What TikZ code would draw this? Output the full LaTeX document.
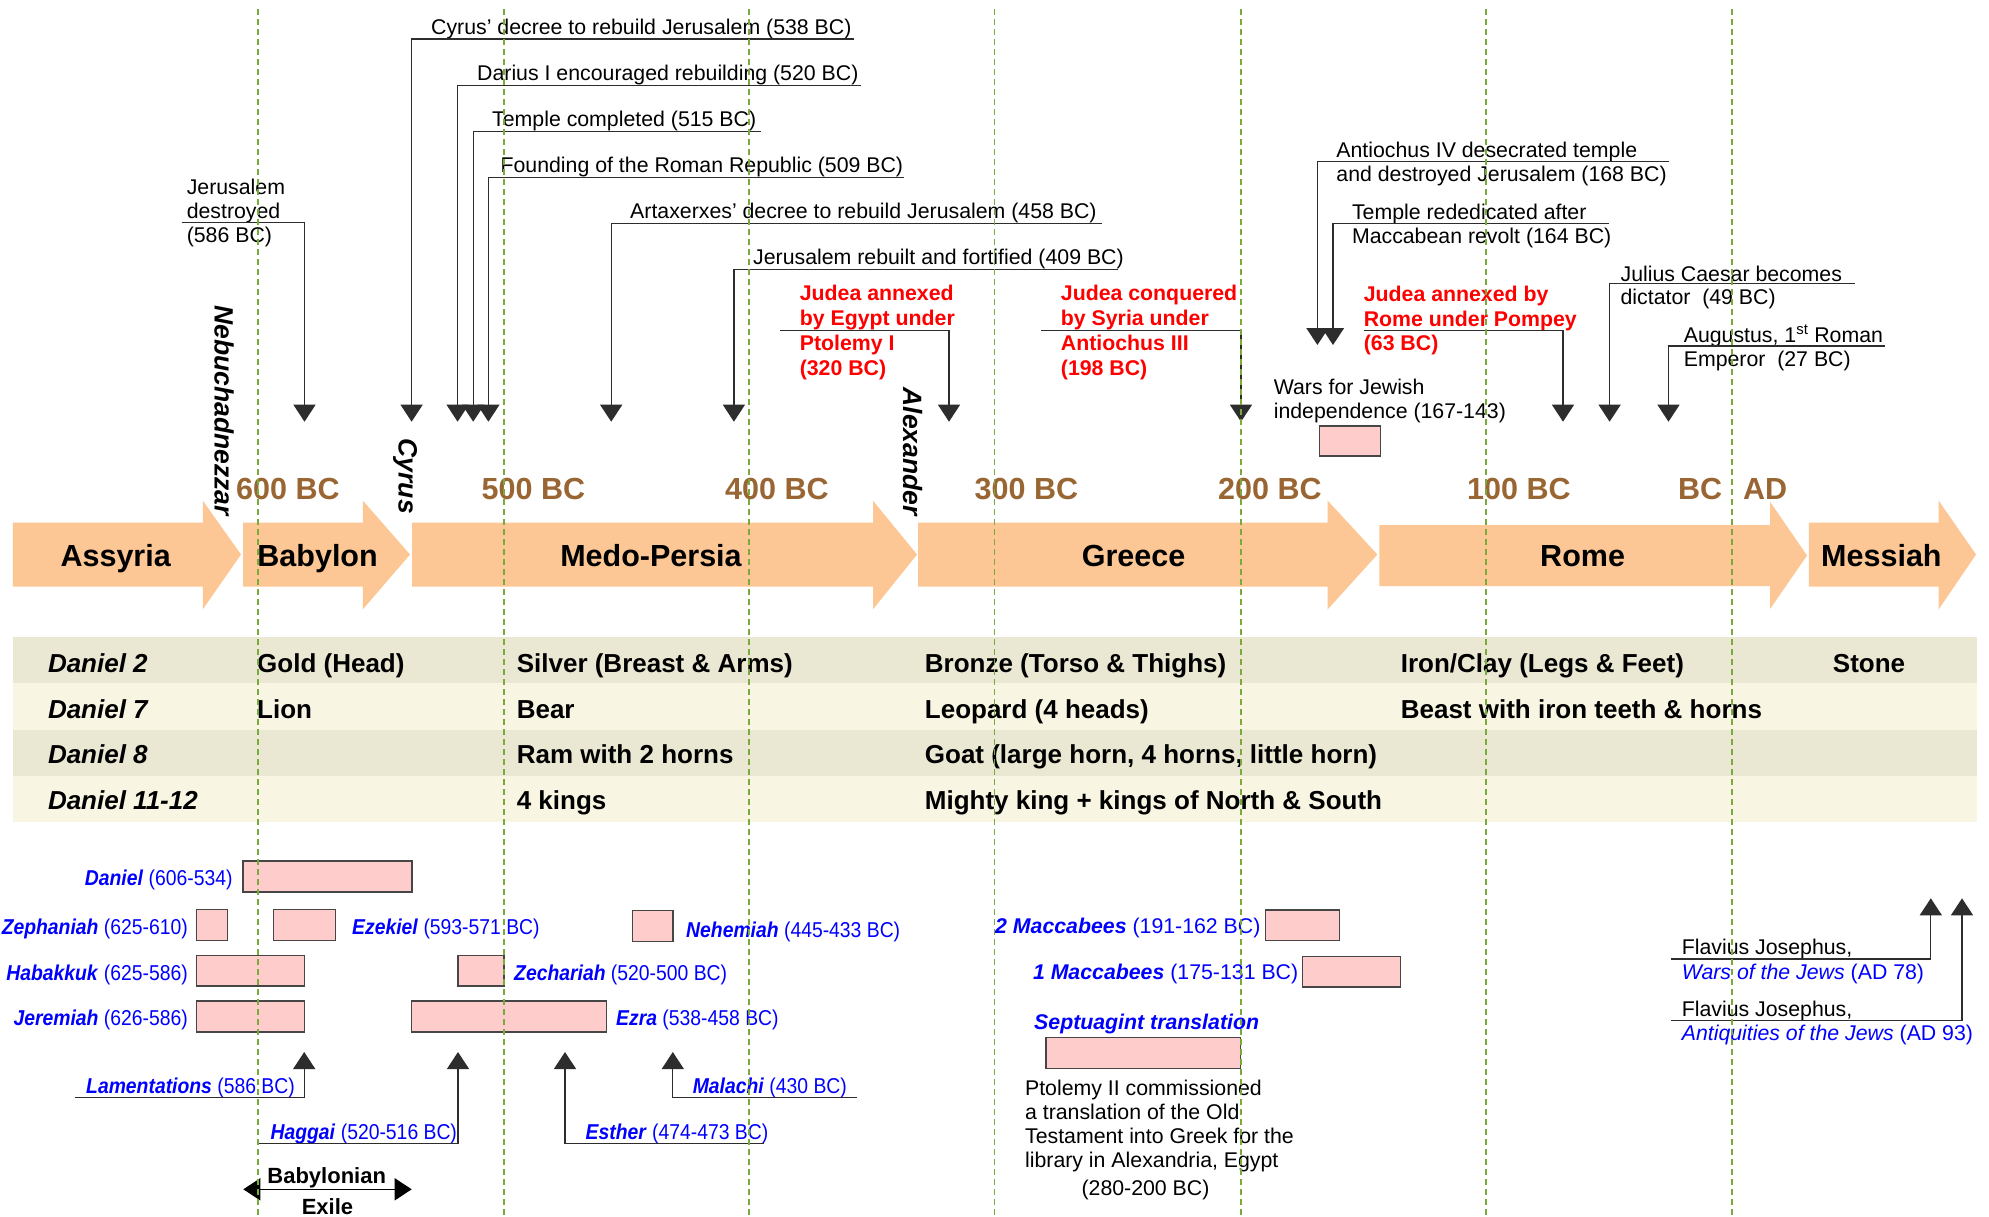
\documentclass[tikz,border=0pt]{standalone}
\usepackage{fontspec}
\setmainfont{Liberation Sans}
\newfontfamily\narrowsans[FakeStretch=0.9]{Liberation Sans}
\usetikzlibrary{arrows.meta}

\definecolor{era}{RGB}{252,199,148}
\definecolor{yearbrown}{RGB}{153,102,51}
\definecolor{guide}{RGB}{120,170,60}
\definecolor{rowdark}{RGB}{234,231,211}
\definecolor{rowlight}{RGB}{248,245,226}
\definecolor{spanfill}{RGB}{255,204,204}
\definecolor{spanedge}{RGB}{70,70,70}
\definecolor{bookblue}{RGB}{0,0,255}
\definecolor{evred}{RGB}{255,0,0}
\definecolor{linkgray}{RGB}{45,45,45}

\newcommand\fsnote{\fontsize{21.3}{24}\selectfont}
\newcommand\fsera{\fontsize{30.5}{34}\selectfont\bfseries}
\newcommand\fsrow{\fontsize{26}{30}\selectfont\bfseries}
\newcommand\fsbook{\narrowsans\fontsize{21.5}{24}\selectfont}
\newcommand\fsking{\fontsize{26.5}{30}\selectfont\bfseries\itshape}
\newcommand\fsexile{\fontsize{22}{25}\selectfont\bfseries}
\newcommand\bk[1]{\textbf{\textit{#1}}}

\begin{document}
\begin{tikzpicture}[x=1pt,y=-1pt,
  lab/.style={inner sep=0pt,anchor=base west},
  note/.style={lab,font=\fsnote},
  notered/.style={lab,font=\fsnote\bfseries,text=evred},
  eralabel/.style={inner sep=0pt,anchor=base,font=\fsera},
  yearlabel/.style={lab,font=\fsera,text=yearbrown},
  rowtext/.style={lab,font=\fsrow},
  rowhead/.style={lab,font=\fsrow\itshape},
  book/.style={lab,font=\fsbook,text=bookblue},
  bookwide/.style={lab,font=\fsnote,text=bookblue},
  bookright/.style={book,anchor=base east},
  king/.style={inner sep=0pt,anchor=east,rotate=-90,font=\fsking},
  spanbox/.style={fill=spanfill,draw=spanedge,line width=1.4pt},
  link/.style={draw=linkgray,line width=1.3pt},
  linkdown/.style={link,-{Triangle[length=17pt,width=22pt]}},
  guideline/.style={draw=guide,line width=1.7pt,dash pattern=on 6pt off 4pt}
]
% canvas
\fill[white] (0,0) rectangle (1989,1216);
\useasboundingbox (0,0) rectangle (1989,1216);

% ---------------- kingdom arrows ----------------
\fill[era] (12.8,522.5) -- (202.8,522.5) -- (202.8,500.7) -- (241,554.5) -- (202.8,609.3) -- (202.8,586.5) -- (12.8,586.5) -- cycle;
\fill[era] (243,522.5) -- (362.9,522.5) -- (362.9,500.7) -- (410,554.5) -- (362.9,609.3) -- (362.9,586.5) -- (243,586.5) -- cycle;
\fill[era] (412,522.5) -- (873,522.5) -- (873,500.7) -- (917,554.5) -- (873,609.3) -- (873,586.5) -- (412,586.5) -- cycle;
\fill[era] (918,522.5) -- (1327.7,522.5) -- (1327.7,500.7) -- (1377.4,554.5) -- (1327.7,609.3) -- (1327.7,586.5) -- (918,586.5) -- cycle;
\fill[era] (1379.4,525) -- (1770,525) -- (1770,501.7) -- (1807,555.5) -- (1770,609) -- (1770,586) -- (1379.4,586) -- cycle;
\fill[era] (1808.8,522.5) -- (1938.7,522.5) -- (1938.7,500.7) -- (1976,554.5) -- (1938.7,609.3) -- (1938.7,586.5) -- (1808.8,586.5) -- cycle;

\node[eralabel] (assyria) at (115.7,566) {Assyria};
\node[eralabel] (babylon) at (317.6,566) {Babylon};
\node[eralabel] (medo) at (651,566) {Medo-Persia};
\node[eralabel] (greece) at (1133.5,566) {Greece};
\node[eralabel] (rome) at (1582.6,566) {Rome};
\node[eralabel] (messiah) at (1881.4,566) {Messiah};

% ---------------- century labels ----------------
\node[yearlabel] (y600) at (236,499.5) {600 BC};
\node[yearlabel] (y500) at (481.5,499.5) {500 BC};
\node[yearlabel] (y400) at (725,499.5) {400 BC};
\node[yearlabel] (y300) at (974.5,499.5) {300 BC};
\node[yearlabel] (y200) at (1218,499.5) {200 BC};
\node[yearlabel] (y100) at (1467,499.5) {100 BC};
\node[yearlabel] (ybc) at (1678,499.5) {BC};
\node[yearlabel] (yad) at (1743,499.5) {AD};

% ---------------- rulers ----------------
\node[king] (nebu) at (224,516) {Nebuchadnezzar};
\node[king] (cyrus) at (405,514) {Cyrus};
\node[king] (alex) at (912.5,516) {Alexander};

% ---------------- events above the timeline ----------------
\node[note] (jd1) at (186.6,194) {Jerusalem};
\node[note] (jd2) at (186.6,218) {destroyed};
\node[note] (jd3) at (186.6,242) {(586 BC)};
\coordinate (jdE) at (181.7,222.3);
\coordinate (jdC) at (304.5,222.3);
\coordinate (jdT) at (304.5,421.7);
\draw[linkdown] (jdE) -- (jdC) -- (jdT);

\node[note] (cyd) at (431,34) {Cyrus' decree to rebuild Jerusalem (538 BC)};
\coordinate (cyE) at (853.6,39);
\coordinate (cyC) at (411.6,39);
\coordinate (cyT) at (411.6,421.7);
\draw[linkdown] (cyE) -- (cyC) -- (cyT);

\node[note] (dar) at (477,80) {Darius I encouraged rebuilding (520 BC)};
\coordinate (darE) at (860.7,85.3);
\coordinate (darC) at (457.6,85.3);
\coordinate (darT) at (457.6,421.7);
\draw[linkdown] (darE) -- (darC) -- (darT);

\node[note] (tc) at (492,126) {Temple completed (515 BC)};
\coordinate (tcE) at (760.7,131.3);
\coordinate (tcC) at (473.2,131.3);
\coordinate (tcT) at (473.2,421.7);
\draw[linkdown] (tcE) -- (tcC) -- (tcT);

\node[note] (rr) at (500.4,172) {Founding of the Roman Republic (509 BC)};
\coordinate (rrE) at (903.6,177.3);
\coordinate (rrC) at (488.4,177.3);
\coordinate (rrT) at (488.4,421.7);
\draw[linkdown] (rrE) -- (rrC) -- (rrT);

\node[note] (art) at (630,218) {Artaxerxes' decree to rebuild Jerusalem (458 BC)};
\coordinate (artE) at (1102,223.3);
\coordinate (artC) at (611.2,223.3);
\coordinate (artT) at (611.2,421.7);
\draw[linkdown] (artE) -- (artC) -- (artT);

\node[note] (jr) at (753,264) {Jerusalem rebuilt and fortified (409 BC)};
\coordinate (jrE) at (1118,269.3);
\coordinate (jrC) at (733.9,269.3);
\coordinate (jrT) at (733.9,421.7);
\draw[linkdown] (jrE) -- (jrC) -- (jrT);

\node[notered] (eg1) at (799.6,300.5) {Judea annexed};
\node[notered] (eg2) at (799.6,325.5) {by Egypt under};
\node[notered] (eg3) at (799.6,350.5) {Ptolemy I};
\node[notered] (eg4) at (799.6,375.5) {(320 BC)};
\coordinate (egE) at (780,330.7);
\coordinate (egC) at (949,330.7);
\coordinate (egT) at (949,421.7);
\draw[linkdown] (egE) -- (egC) -- (egT);

\node[notered] (sy1) at (1060.7,300.5) {Judea conquered};
\node[notered] (sy2) at (1060.7,325.5) {by Syria under};
\node[notered] (sy3) at (1060.7,350.5) {Antiochus III};
\node[notered] (sy4) at (1060.7,375.5) {(198 BC)};
\coordinate (syE) at (1041,330.7);
\coordinate (syC) at (1241,330.7);
\coordinate (syT) at (1241,421.7);
\draw[linkdown] (syE) -- (syC) -- (syT);

\node[note] (an1) at (1336.2,157.5) {Antiochus IV desecrated temple};
\node[note] (an2) at (1336.2,181.5) {and destroyed Jerusalem (168 BC)};
\coordinate (anE) at (1669.4,161.7);
\coordinate (anC) at (1317.4,161.7);
\coordinate (anT) at (1317.4,345);
\draw[linkdown] (anE) -- (anC) -- (anT);

\node[note] (rd1) at (1351.8,219) {Temple rededicated after};
\node[note] (rd2) at (1351.8,243.5) {Maccabean revolt (164 BC)};
\coordinate (rdE) at (1609,223.3);
\coordinate (rdC) at (1333,223.3);
\coordinate (rdT) at (1333,345);
\draw[linkdown] (rdE) -- (rdC) -- (rdT);

\node[notered] (po1) at (1363.6,301.5) {Judea annexed by};
\node[notered] (po2) at (1363.6,326.5) {Rome under Pompey};
\node[notered] (po3) at (1363.6,350.5) {(63 BC)};
\coordinate (poE) at (1363.6,330.7);
\coordinate (poC) at (1563,330.7);
\coordinate (poT) at (1563,421.7);
\draw[linkdown] (poE) -- (poC) -- (poT);

\node[note] (jc1) at (1620.4,281) {Julius Caesar becomes};
\node[note] (jc2) at (1620.4,304.5) {dictator\ \ (49 BC)};
\coordinate (jcE) at (1854.6,283.7);
\coordinate (jcC) at (1609.6,283.7);
\coordinate (jcT) at (1609.6,421.7);
\draw[linkdown] (jcE) -- (jcC) -- (jcT);

\node[note] (au1) at (1683.6,342.5) {Augustus, 1\textsuperscript{st} Roman};
\node[note] (au2) at (1683.6,366.5) {Emperor\ \ (27 BC)};
\coordinate (auE) at (1884.8,346);
\coordinate (auC) at (1668.5,346);
\coordinate (auT) at (1668.5,421.7);
\draw[linkdown] (auE) -- (auC) -- (auT);

\node[note] (wj1) at (1273.6,394) {Wars for Jewish};
\node[note] (wj2) at (1273.6,418.5) {independence (167-143)};
\draw[spanbox] (1319.7,426) rectangle (1380.5,456);

% ---------------- Daniel's visions ----------------
\fill[rowdark]  (12.8,637.3) rectangle (1977,683.3);
\fill[rowlight] (12.8,683.3) rectangle (1977,730);
\fill[rowdark]  (12.8,730)   rectangle (1977,775.7);
\fill[rowlight] (12.8,775.7) rectangle (1977,821.7);

\node[rowhead] (d2) at (47.8,672) {Daniel 2};
\node[rowtext] (d2a) at (257,672) {Gold (Head)};
\node[rowtext] (d2b) at (516.6,672) {Silver (Breast \& Arms)};
\node[rowtext] (d2c) at (924.7,672) {Bronze (Torso \& Thighs)};
\node[rowtext] (d2d) at (1400.6,672) {Iron/Clay (Legs \& Feet)};
\node[rowtext] (d2e) at (1832.7,672) {Stone};

\node[rowhead] (d7) at (47.8,718.7) {Daniel 7};
\node[rowtext] (d7a) at (257,718.7) {Lion};
\node[rowtext] (d7b) at (516.6,718.7) {Bear};
\node[rowtext] (d7c) at (924.7,718.7) {Leopard (4 heads)};
\node[rowtext] (d7d) at (1400.6,718.7) {Beast with iron teeth \& horns};

\node[rowhead] (d8) at (47.8,763.7) {Daniel 8};
\node[rowtext] (d8b) at (516.6,763.7) {Ram with 2 horns};
\node[rowtext] (d8c) at (924.7,763.7) {Goat (large horn, 4 horns, little horn)};

\node[rowhead] (d11) at (47.8,809.4) {Daniel 11-12};
\node[rowtext] (d11b) at (516.6,809.4) {4 kings};
\node[rowtext] (d11c) at (924.7,809.4) {Mighty king + kings of North \& South};

% ---------------- books and their periods ----------------
\draw[spanbox] (243,861) rectangle (412,892);
\draw[spanbox] (196.4,909.7) rectangle (227.7,940.7);
\draw[spanbox] (273.6,909.7) rectangle (335.5,940.7);
\draw[spanbox] (632.7,910.3) rectangle (672.8,941.3);
\draw[spanbox] (196.4,955.3) rectangle (304.2,986);
\draw[spanbox] (458,955.3) rectangle (503.8,986);
\draw[spanbox] (196.4,1001) rectangle (304.2,1032);
\draw[spanbox] (411.4,1001) rectangle (606.5,1032);
\draw[spanbox] (1265.4,910) rectangle (1339.7,940.7);
\draw[spanbox] (1302.5,956.3) rectangle (1400.6,987);
\draw[spanbox] (1046,1037.3) rectangle (1240.3,1068.3);

\node[bookright] (bdan) at (232.8,885) {\bk{Daniel} (606-534)};
\node[bookright] (bzep) at (188,934.5) {\bk{Zephaniah} (625-610)};
\node[book] (beze) at (352,934.5) {\bk{Ezekiel} (593-571 BC)};
\node[book] (bneh) at (686,937) {\bk{Nehemiah} (445-433 BC)};
\node[bookright] (bhab) at (188,980) {\bk{Habakkuk} (625-586)};
\node[book] (bzec) at (514,980) {\bk{Zechariah} (520-500 BC)};
\node[bookright] (bjer) at (188,1025) {\bk{Jeremiah} (626-586)};
\node[book] (bezr) at (616,1025) {\bk{Ezra} (538-458 BC)};
\node[book] (blam) at (86,1093) {\bk{Lamentations} (586 BC)};
\node[book] (bmal) at (692.6,1093) {\bk{Malachi} (430 BC)};
\node[book] (bhag) at (270.4,1139) {\bk{Haggai} (520-516 BC)};
\node[book] (best) at (585.5,1139) {\bk{Esther} (474-473 BC)};
\node[bookwide] (bmac2) at (995,933) {\bk{2 Maccabees} (191-162 BC)};
\node[bookwide] (bmac1) at (1032.8,979) {\bk{1 Maccabees} (175-131 BC)};
\node[bookwide] (bsep) at (1034,1029) {\bk{Septuagint translation}};

\coordinate (lamE) at (74.6,1097.3);
\coordinate (lamC) at (304.2,1097.3);
\coordinate (lamT) at (304.2,1052);
\draw[linkdown] (lamE) -- (lamC) -- (lamT);
\coordinate (hagE) at (258.3,1143.3);
\coordinate (hagC) at (458,1143.3);
\coordinate (hagT) at (458,1052);
\draw[linkdown] (hagE) -- (hagC) -- (hagT);
\coordinate (estE) at (764,1143.3);
\coordinate (estC) at (565,1143.3);
\coordinate (estT) at (565,1052);
\draw[linkdown] (estE) -- (estC) -- (estT);
\coordinate (malE) at (856.5,1097.3);
\coordinate (malC) at (672.8,1097.3);
\coordinate (malT) at (672.8,1052);
\draw[linkdown] (malE) -- (malC) -- (malT);

\node[note] (pt1) at (1024.9,1095) {Ptolemy II commissioned};
\node[note] (pt2) at (1024.9,1119) {a translation of the Old};
\node[note] (pt3) at (1024.9,1143) {Testament into Greek for the};
\node[note] (pt4) at (1024.9,1167) {library in Alexandria, Egypt};
\node[note,anchor=base] (pt5) at (1145.5,1195) {(280-200 BC)};

% ---------------- Josephus ----------------
\node[note] (fj1) at (1681.6,954.5) {Flavius Josephus,};
\node[note,text=bookblue] (fj1b) at (1681.6,979) {\textit{Wars of the Jews} (AD 78)};
\node[note] (fj2) at (1681.6,1016) {Flavius Josephus,};
\node[note,text=bookblue] (fj2b) at (1681.6,1040) {\textit{Antiquities of the Jews} (AD 93)};
\coordinate (fj1E) at (1671,959);
\coordinate (fj1C) at (1930.8,959);
\coordinate (fj1T) at (1930.8,898.3);
\draw[linkdown] (fj1E) -- (fj1C) -- (fj1T);
\coordinate (fj2E) at (1671,1020.3);
\coordinate (fj2C) at (1962,1020.3);
\coordinate (fj2T) at (1962,898.3);
\draw[linkdown] (fj2E) -- (fj2C) -- (fj2T);

% ---------------- Babylonian exile ----------------
\coordinate (exL) at (243.3,1189.3);
\coordinate (exR) at (411.7,1189.3);
\draw[line width=1.6pt,{Triangle[length=17pt,width=22pt]}-{Triangle[length=17pt,width=22pt]}] (exL) -- (exR);
\node[inner sep=0pt,anchor=base,font=\fsexile] (ex1) at (326.7,1183) {Babylonian};
\node[inner sep=0pt,anchor=base,font=\fsexile] (ex2) at (327.5,1214) {Exile};

% ---------------- century guide lines ----------------
\foreach \gx in {257.7,503.8,748.7,994.4,1240.9,1486,1732}
  \draw[guideline] (\gx,9) -- (\gx,1216);
\end{tikzpicture}
\end{document}
